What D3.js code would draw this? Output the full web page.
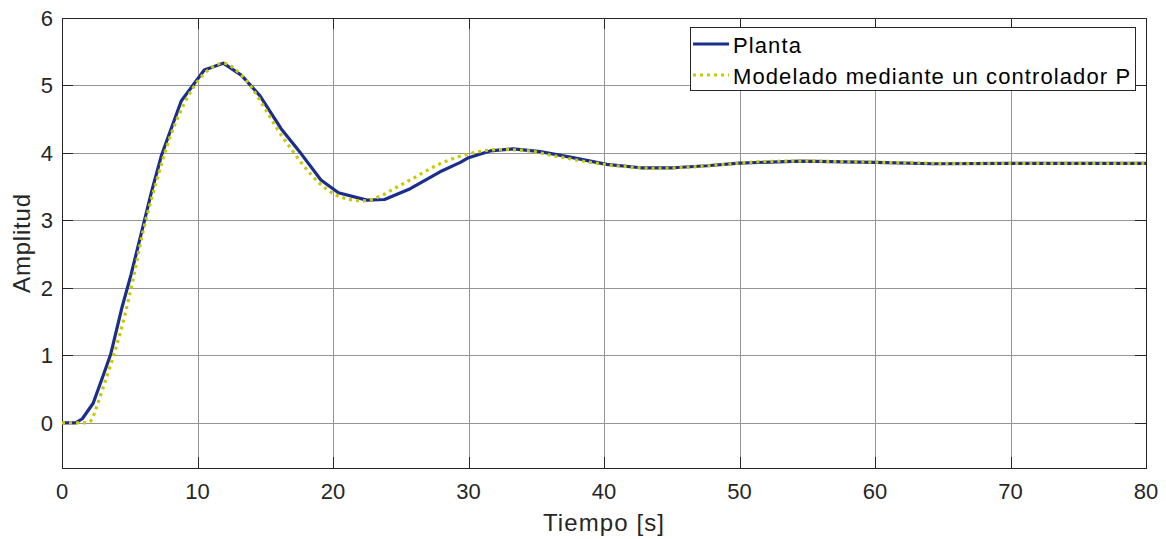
<!DOCTYPE html>
<html>
<head>
<meta charset="utf-8">
<script src="https://cdn.jsdelivr.net/npm/d3@7"></script>
<style>
  body { margin: 0; background: #fff; }
  text { font-family: "Liberation Sans", Arial, sans-serif; fill: #262626; }
</style>
</head>
<body>
<script>
// planta (sampled response)
let plantaT = [0, 1.0, 1.5, 2.3, 3.0, 3.6, 4.4, 5.1, 5.9, 6.6, 7.35, 8.8, 10.5, 11.9, 13.25, 14.6, 16.17, 17.64, 19.11, 20.4, 22.5, 23.8, 25.7, 27.9, 29.4, 30.0, 31.6, 33.3, 35.3, 37.7, 40.2, 42.7, 45.1, 47.6, 50, 54.5, 60, 64.3, 70, 80];
let plantaY = [0, 0, 0.06, 0.29, 0.68, 1.02, 1.69, 2.2, 2.85, 3.42, 3.97, 4.77, 5.23, 5.33, 5.15, 4.85, 4.36, 3.99, 3.6, 3.41, 3.30, 3.31, 3.47, 3.72, 3.86, 3.93, 4.03, 4.06, 4.02, 3.93, 3.83, 3.78, 3.78, 3.81, 3.85, 3.88, 3.86, 3.84, 3.845, 3.845];

// modelo con controlador P
let modeloT = [0, 1.5, 2.0, 2.2, 2.56, 3.05, 3.54, 4.28, 5.02, 6.0, 7.0, 8.0, 9.0, 10.0, 11.0, 11.9, 13.0, 14.0, 15.0, 16.0, 16.8, 18.0, 19.0, 20.0, 21.0, 22.2, 23.5, 24.5, 25.7, 27.9, 30.1, 32.3, 34, 36.5, 39, 41.4, 43.9, 46.3, 49.5, 51.5, 54.5, 58, 62, 66, 70, 75, 80];
let modeloY = [0, 0, 0.01, 0.05, 0.24, 0.53, 0.83, 1.32, 1.92, 2.85, 3.6, 4.25, 4.72, 5.06, 5.26, 5.33, 5.2, 4.97, 4.65, 4.32, 4.09, 3.77, 3.55, 3.40, 3.32, 3.29, 3.36, 3.47, 3.60, 3.84, 3.99, 4.05, 4.04, 3.95, 3.86, 3.80, 3.77, 3.79, 3.84, 3.87, 3.88, 3.87, 3.855, 3.845, 3.845, 3.845, 3.845];

let xTicks = [0, 10, 20, 30, 40, 50, 60, 70, 80];
let yTicks = [0, 1, 2, 3, 4, 5, 6];
let legendNames = ["Planta", "Modelado mediante un controlador P"];

let W = 1166, H = 539;
let m = { left: 62, right: 1146, top: 18, bottom: 468 };

let x = d3.scaleLinear().domain([0, 80]).range([m.left, m.right]);
let y = d3.scaleLinear().domain([-0.67, 6]).range([m.bottom, m.top]);

let svg = d3.select("body").append("svg")
  .attr("width", W)
  .attr("height", H);

// grid
svg.append("g").selectAll("line")
  .data(xTicks.slice(1, -1))
  .enter().append("line")
  .attr("x1", d => Math.round(x(d)) + 0.5)
  .attr("x2", d => Math.round(x(d)) + 0.5)
  .attr("y1", m.top).attr("y2", m.bottom)
  .attr("stroke", "#959595").attr("stroke-width", 1);

svg.append("g").selectAll("line")
  .data(yTicks.slice(0, -1))
  .enter().append("line")
  .attr("y1", d => Math.round(y(d)) + 0.5)
  .attr("y2", d => Math.round(y(d)) + 0.5)
  .attr("x1", m.left).attr("x2", m.right)
  .attr("stroke", "#959595").attr("stroke-width", 1);

// box + ticks on all sides
let tk = 11;
svg.append("rect")
  .attr("x", m.left + 0.5).attr("y", m.top + 0.5)
  .attr("width", m.right - m.left).attr("height", m.bottom - m.top)
  .attr("fill", "none").attr("stroke", "#262626").attr("stroke-width", 1);

let ticks = svg.append("g").attr("stroke", "#262626").attr("stroke-width", 1);
xTicks.forEach(function(d) {
  let px = Math.round(x(d)) + 0.5;
  ticks.append("line").attr("x1", px).attr("x2", px).attr("y1", m.bottom).attr("y2", m.bottom - tk);
  ticks.append("line").attr("x1", px).attr("x2", px).attr("y1", m.top).attr("y2", m.top + tk);
});
yTicks.forEach(function(d) {
  let py = Math.round(y(d)) + 0.5;
  ticks.append("line").attr("y1", py).attr("y2", py).attr("x1", m.left).attr("x2", m.left + tk);
  ticks.append("line").attr("y1", py).attr("y2", py).attr("x1", m.right).attr("x2", m.right - tk);
});

// tick labels
svg.append("g").selectAll("text")
  .data(xTicks)
  .enter().append("text")
  .attr("x", d => x(d))
  .attr("y", 499)
  .attr("text-anchor", "middle")
  .style("font-size", "22px")
  .text(d => d);

svg.append("g").selectAll("text")
  .data(yTicks)
  .enter().append("text")
  .attr("x", 53)
  .attr("y", d => y(d) + 8)
  .attr("text-anchor", "end")
  .style("font-size", "22px")
  .text(d => d);

// axis titles
svg.append("text")
  .attr("x", (m.left + m.right) / 2)
  .attr("y", 531)
  .attr("text-anchor", "middle")
  .style("font-size", "24px")
  .style("letter-spacing", "1.1px")
  .text("Tiempo [s]");

svg.append("text")
  .attr("transform", "translate(30," + ((m.top + m.bottom) / 2) + ") rotate(-90)")
  .attr("text-anchor", "middle")
  .style("font-size", "24px")
  .style("letter-spacing", "0.8px")
  .text("Amplitud");

// lines
svg.append("clipPath").attr("id", "clip")
  .append("rect").attr("x", m.left).attr("y", m.top).attr("width", m.right - m.left).attr("height", m.bottom - m.top);

let plantaLine = d3.line().x(d => x(d[0])).y(d => y(d[1]));
let modeloLine = d3.line().x(d => x(d[0])).y(d => y(d[1])).curve(d3.curveMonotoneX);

svg.append("path")
  .datum(d3.zip(plantaT, plantaY))
  .attr("clip-path", "url(#clip)")
  .attr("d", plantaLine)
  .attr("fill", "none")
  .attr("stroke", "#1b2e8e")
  .attr("stroke-width", 3.2)
  .attr("stroke-linejoin", "round");

svg.append("path")
  .datum(d3.zip(modeloT, modeloY))
  .attr("clip-path", "url(#clip)")
  .attr("d", modeloLine)
  .attr("fill", "none")
  .attr("stroke", "#c9c900")
  .attr("stroke-width", 3.2)
  .attr("stroke-dasharray", "3,4");

// legend
let lg = svg.append("g");
lg.append("rect")
  .attr("x", 690.5).attr("y", 27.5)
  .attr("width", 445).attr("height", 63)
  .attr("fill", "#fff").attr("stroke", "#262626").attr("stroke-width", 1);

let legendStyles = [
  { color: "#1b2e8e", dash: null },
  { color: "#c9c900", dash: "3,4" }
];
legendNames.forEach(function(name, i) {
  let ly = 44 + i * 31;
  lg.append("line")
    .attr("x1", 693).attr("x2", 729)
    .attr("y1", ly).attr("y2", ly)
    .attr("stroke", legendStyles[i].color)
    .attr("stroke-width", 3.2)
    .attr("stroke-dasharray", legendStyles[i].dash);
  lg.append("text")
    .attr("x", 733)
    .attr("y", ly + 9)
    .style("font-size", "22px")
    .style("letter-spacing", "1.1px")
    .style("fill", "#000")
    .text(name);
});
</script>
</body>
</html>
